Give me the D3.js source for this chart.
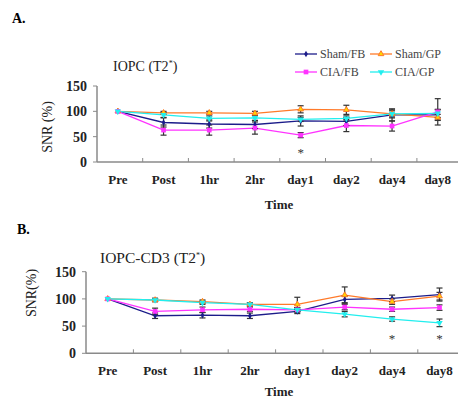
<!DOCTYPE html>
<html>
<head>
<meta charset="utf-8">
<script src="https://cdn.jsdelivr.net/npm/d3@7"></script>
<style>
  body { margin: 0; background: #fff; }
  svg { display: block; font-family: "Liberation Serif", "DejaVu Serif", serif; }
</style>
</head>
<body>
<div id="chart"></div>
<script>
// Data
const timepoints = ['Pre', 'Post', '1hr', '2hr', 'day1', 'day2', 'day4', 'day8'];
const groups = ['Sham/FB', 'Sham/GP', 'CIA/FB', 'CIA/GP'];

// panel A: IOPC
const aShamFB = [100, 78, 75, 74, 81, 80, 93, 93];
const aShamGP = [100, 97, 97, 96, 104, 103, 95, 88];
const aCiaFB  = [100, 63, 63, 67, 53, 72, 71, 99];
const aCiaGP  = [100, 93, 86, 87, 84, 86, 95, 96];
const aShamFBErr = [0, 9, 8, 8, 10, 8, 12, 10];
const aShamGPErr = [0, 3, 3, 4, 7, 9, 8, 6];
const aCiaFBErr  = [0, 10, 10, 12, 5, 12, 10, 26];
const aCiaGPErr  = [0, 5, 5, 5, 4, 5, 6, 8];
const aStars = ['day1'];

// panel B: IOPC-CD3
const bShamFB = [100, 69, 70, 69, 77, 99, 101, 108];
const bShamGP = [100, 98, 95, 90, 90, 107, 95, 105];
const bCiaFB  = [100, 77, 80, 81, 80, 85, 81, 84];
const bCiaGP  = [100, 98, 93, 90, 80, 72, 63, 56];
const bShamFBErr = [0, 5, 5, 5, 4, 6, 6, 12];
const bShamGPErr = [0, 3, 3, 3, 13, 15, 5, 7];
const bCiaFBErr  = [0, 6, 5, 4, 4, 5, 4, 5];
const bCiaGPErr  = [0, 3, 3, 3, 4, 5, 4, 7];
const bStars = ['day4', 'day8'];

const yTicks = [0, 50, 100, 150];

const COLORS = { 'Sham/FB': '#1c1c8a', 'Sham/GP': '#ff7a2a', 'CIA/FB': '#ff33ff', 'CIA/GP': '#22eeee' };

const svg = d3.select('#chart').append('svg')
  .attr('width', 458).attr('height', 399);

function marker(g, name, x, y) {
  const c = COLORS[name];
  if (name === 'Sham/FB') {
    g.append('path').attr('d', d3.symbol(d3.symbolDiamond, 12)())
      .attr('transform', `translate(${x},${y})`).attr('fill', c);
  } else if (name === 'Sham/GP') {
    g.append('path').attr('d', d3.symbol(d3.symbolTriangle, 14)())
      .attr('transform', `translate(${x},${y})`).attr('fill', '#ffd700')
      .attr('stroke', c).attr('stroke-width', 1);
  } else if (name === 'CIA/FB') {
    g.append('path').attr('d', d3.symbol(d3.symbolSquare, 22)())
      .attr('transform', `translate(${x},${y})`).attr('fill', c);
  } else {
    g.append('path').attr('d', d3.symbol(d3.symbolTriangle, 18)())
      .attr('transform', `translate(${x},${y}) rotate(180)`).attr('fill', c);
  }
}

function drawPanel(opts) {
  const { left, top, bottom, right, step, series, errs, stars, title, ylabel, label, labelPos, titlePos, titleSize, ylabelPos, timeY } = opts;
  const x = d3.scaleBand().domain(timepoints).range([left, left + step * timepoints.length]);
  const y = d3.scaleLinear().domain([0, 150]).range([bottom, top]);
  const g = svg.append('g');
  const cx = d => x(d) + x.bandwidth() / 2 - 2;

  // axes
  g.append('line').attr('x1', left).attr('x2', left).attr('y1', y(150)).attr('y2', bottom)
    .attr('stroke', '#8a8a8a').attr('stroke-width', 1.5);
  g.append('line').attr('x1', left).attr('x2', right).attr('y1', bottom).attr('y2', bottom)
    .attr('stroke', '#8a8a8a').attr('stroke-width', 1.5);
  g.selectAll('.yt').data(yTicks).enter().append('line')
    .attr('x1', left - 4).attr('x2', left).attr('y1', d => y(d)).attr('y2', d => y(d))
    .attr('stroke', '#8a8a8a');
  g.selectAll('.yl').data(yTicks).enter().append('text')
    .attr('x', left - 10).attr('y', d => y(d) + 5)
    .attr('text-anchor', 'end').attr('font-size', 14).attr('font-weight', 'bold').attr('fill', '#222')
    .text(d => d);
  g.selectAll('.xt').data(timepoints.slice(1)).enter().append('line')
    .attr('x1', d => x(d)).attr('x2', d => x(d)).attr('y1', bottom - 4).attr('y2', bottom)
    .attr('stroke', '#8a8a8a');
  g.selectAll('.xl').data(timepoints).enter().append('text')
    .attr('x', d => cx(d)).attr('y', bottom + 22)
    .attr('text-anchor', 'middle').attr('font-size', 13).attr('font-weight', 'bold').attr('fill', '#222')
    .text(d => d);

  // labels
  svg.append('text').attr('x', labelPos[0]).attr('y', labelPos[1])
    .attr('font-size', 14).attr('font-weight', 'bold').text(label);
  const t = svg.append('text').attr('x', titlePos[0]).attr('y', titlePos[1]).attr('font-size', titleSize).attr('fill', '#222');
  t.append('tspan').text(title + ' (T2');
  t.append('tspan').attr('font-size', 8).attr('dy', -5).text('*');
  t.append('tspan').attr('dy', 5).text(')');
  svg.append('text').attr('transform', `translate(${ylabelPos[0]},${ylabelPos[1]}) rotate(-90)`)
    .attr('text-anchor', 'middle').attr('font-size', 14).attr('fill', '#222').text(ylabel);
  svg.append('text').attr('x', 279).attr('y', timeY).attr('text-anchor', 'middle')
    .attr('font-size', 13).attr('font-weight', 'bold').attr('fill', '#222').text('Time');

  // lines
  const line = d3.line().x((d, i) => cx(timepoints[i])).y(d => y(d));
  groups.forEach((name, k) => {
    g.append('path').datum(series[k]).attr('d', line)
      .attr('fill', 'none').attr('stroke', COLORS[name]).attr('stroke-width', 1.3);
  });
  // error bars
  groups.forEach((name, k) => {
    series[k].forEach((v, i) => {
      const e = errs[k][i];
      if (!e) return;
      const xx = cx(timepoints[i]);
      g.append('line').attr('x1', xx).attr('x2', xx).attr('y1', y(v - e)).attr('y2', y(v + e))
        .attr('stroke', '#333').attr('stroke-width', 1.2);
      [v - e, v + e].forEach(w => g.append('line').attr('x1', xx - 3).attr('x2', xx + 3)
        .attr('y1', y(w)).attr('y2', y(w)).attr('stroke', '#333').attr('stroke-width', 1.2));
    });
  });
  // markers
  groups.forEach((name, k) => {
    series[k].forEach((v, i) => marker(g, name, cx(timepoints[i]), y(v)));
  });
  // stars
  stars.forEach(s => {
    g.append('text').attr('x', cx(s)).attr('y', opts.starY).attr('text-anchor', 'middle')
      .attr('font-size', 13).attr('fill', '#333').text('*');
  });
}

drawPanel({
  left: 97, top: 86, bottom: 162, right: 458, step: 45.7,
  series: [aShamFB, aShamGP, aCiaFB, aCiaGP],
  errs: [aShamFBErr, aShamGPErr, aCiaFBErr, aCiaGPErr],
  stars: aStars, starY: 157,
  title: 'IOPC', titleSize: 14, ylabel: 'SNR (%)', label: 'A.',
  labelPos: [12, 23], titlePos: [113, 71], ylabelPos: [52, 127], timeY: 209
});

drawPanel({
  left: 86, top: 271.7, bottom: 353.3, right: 458, step: 47.4,
  series: [bShamFB, bShamGP, bCiaFB, bCiaGP],
  errs: [bShamFBErr, bShamGPErr, bCiaFBErr, bCiaGPErr],
  stars: bStars, starY: 343,
  title: 'IOPC-CD3', titleSize: 15.5, ylabel: 'SNR(%)', label: 'B.',
  labelPos: [17, 234], titlePos: [100, 263], ylabelPos: [36, 293], timeY: 396
});

// legend
const legend = svg.append('g');
const legendPos = [[295, 54], [370, 54], [295, 72], [370, 72]];
const legendOrder = ['Sham/FB', 'Sham/GP', 'CIA/FB', 'CIA/GP'];
legendOrder.forEach((name, i) => {
  const [lx, ly] = legendPos[i];
  legend.append('line').attr('x1', lx).attr('x2', lx + 22).attr('y1', ly).attr('y2', ly)
    .attr('stroke', COLORS[name]).attr('stroke-width', 1.3);
  marker(legend, name, lx + 11, ly);
  legend.append('text').attr('x', lx + 25).attr('y', ly + 4)
    .attr('font-size', 12).attr('fill', '#444').text(name);
});
</script>
</body>
</html>
